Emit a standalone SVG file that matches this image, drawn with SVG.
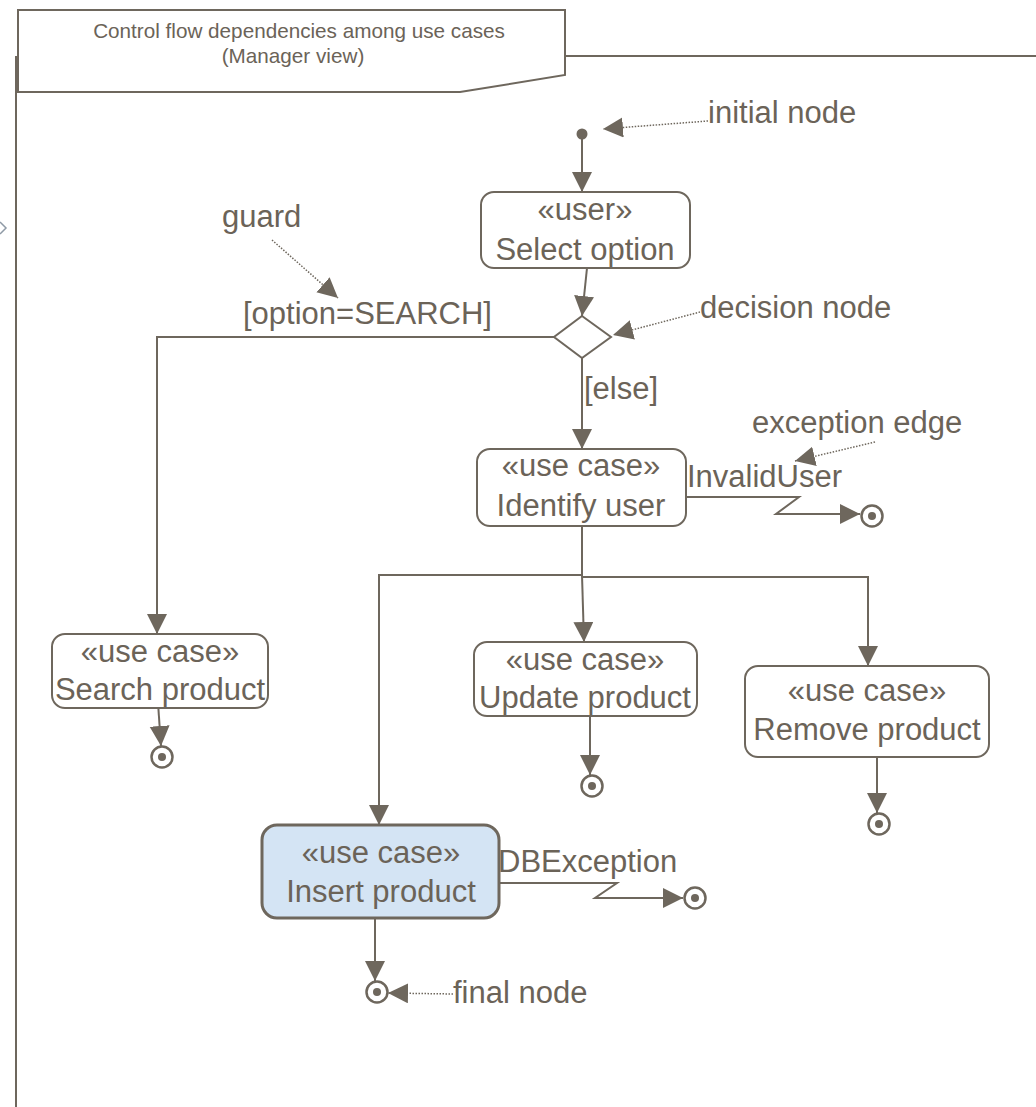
<svg xmlns="http://www.w3.org/2000/svg" width="1036" height="1107" viewBox="0 0 1036 1107">
  <style>
    .ln { fill: none; stroke: #6e675d; stroke-width: 2; }
    .dot { fill: none; stroke: #6e675d; stroke-width: 1.5; stroke-dasharray: 1.5 1.5; }
    .box { fill: #ffffff; stroke: #6e675d; stroke-width: 2; }
    .hl { fill: #d4e4f4; stroke: #6e675d; stroke-width: 3; }
    .t { font-family: "Liberation Sans", Arial, sans-serif; font-size: 31px; fill: #6b6358; }
    .c { text-anchor: middle; }
    .title { font-family: "Liberation Sans", Arial, sans-serif; font-size: 20.7px; fill: #6b6358; text-anchor: middle; }
    .fin { fill: #ffffff; stroke: #6e675d; stroke-width: 2.5; }
    .fdot { fill: #6e675d; }
  </style>
  <defs>
    <marker id="arrow" markerUnits="userSpaceOnUse" markerWidth="22" markerHeight="22" refX="20" refY="10" orient="auto" viewBox="0 0 22 22">
      <path d="M0,0 L20,10 L0,20 z" fill="#6e675d"/>
    </marker>
  </defs>

  <rect width="1036" height="1107" fill="#ffffff"/>

  <!-- frame -->
  <g id="frame">
    <path class="ln" d="M16,1107 L16,56 M565,56 L1036,56"/>
    <path class="ln" d="M18,10 L565,10 L565,75 L460,92 L18,92 Z" fill="#ffffff"/>
    <text class="title" x="299" y="38">Control flow dependencies among use cases</text>
    <text class="title" x="293" y="63">(Manager view)</text>
    <path d="M0,222 L6,228 L0,234" fill="none" stroke="#8f9aa6" stroke-width="1.5"/>
  </g>

  <!-- connectors -->
  <g id="connectors">
    <path class="ln" d="M582,139 L582,192" marker-end="url(#arrow)"/>
    <path class="ln" d="M587,268 L582,316" marker-end="url(#arrow)"/>
    <path class="ln" d="M554,337 L157,337 L157,634" marker-end="url(#arrow)"/>
    <path class="ln" d="M582,358 L582,449" marker-end="url(#arrow)"/>
    <path class="ln" d="M582,526 L582,575 L379,575 L379,825" marker-end="url(#arrow)"/>
    <path class="ln" d="M582,575 L584,642" marker-end="url(#arrow)"/>
    <path class="ln" d="M583,577 L868,577 L868,666" marker-end="url(#arrow)"/>
    <path class="ln" d="M158,703 L161,746" marker-end="url(#arrow)"/>
    <path class="ln" d="M590,700 L590,775" marker-end="url(#arrow)"/>
    <path class="ln" d="M877,757 L877,813" marker-end="url(#arrow)"/>
    <path class="ln" d="M375,918 L375,981" marker-end="url(#arrow)"/>
    <!-- exception edges -->
    <path class="ln" d="M687,497 L799,497 L776,514 L860,514" marker-end="url(#arrow)"/>
    <path class="ln" d="M500,883 L617,883 L595,898 L683,898" marker-end="url(#arrow)"/>
    <!-- annotation pointers -->
    <path class="dot" d="M708,121 L603,129" marker-end="url(#arrow)"/>
    <path class="dot" d="M272,240 L338,298" marker-end="url(#arrow)"/>
    <path class="dot" d="M700,312 L613,335" marker-end="url(#arrow)"/>
    <path class="dot" d="M875,442 L795,461" marker-end="url(#arrow)"/>
    <path class="dot" d="M453,994 L388,993" marker-end="url(#arrow)"/>
    <text class="t" x="243" y="324">[option=SEARCH]</text>
    <text class="t" x="584" y="399">[else]</text>
    <text class="t" x="687" y="487">InvalidUser</text>
    <text class="t" x="498" y="872">DBException</text>
  </g>

  <!-- annotations -->
  <g id="notes">
    <text class="t" x="708" y="123">initial node</text>
    <text class="t" x="222" y="227">guard</text>
    <text class="t" x="700" y="318">decision node</text>
    <text class="t" x="752" y="433">exception edge</text>
    <text class="t" x="453" y="1003">final node</text>
  </g>

  <g id="initial">
    <circle cx="582" cy="134" r="5.5" class="fdot"/>
  </g>

  <g id="select-option">
    <rect class="box" x="481" y="192" width="209" height="76" rx="13"/>
    <text class="t c" x="585" y="220">«user»</text>
    <text class="t c" x="585" y="260">Select option</text>
  </g>

  <g id="decision">
    <path class="box" d="M582,316 L611,337 L582,358 L554,337 Z"/>
  </g>

  <g id="identify-user">
    <rect class="box" x="477" y="449" width="209" height="77" rx="13"/>
    <text class="t c" x="581" y="476">«use case»</text>
    <text class="t c" x="581" y="516">Identify user</text>
  </g>

  <g id="search-product">
    <rect class="box" x="52" y="634" width="216" height="74" rx="13"/>
    <text class="t c" x="160" y="662">«use case»</text>
    <text class="t c" x="160" y="700">Search product</text>
  </g>

  <g id="update-product">
    <rect class="box" x="474" y="642" width="223" height="74" rx="13"/>
    <text class="t c" x="585" y="670">«use case»</text>
    <text class="t c" x="585" y="708">Update product</text>
  </g>

  <g id="remove-product">
    <rect class="box" x="745" y="666" width="244" height="91" rx="13"/>
    <text class="t c" x="867" y="701">«use case»</text>
    <text class="t c" x="867" y="740">Remove product</text>
  </g>

  <g id="insert-product">
    <rect class="hl" x="262" y="825" width="237" height="93" rx="15"/>
    <text class="t c" x="381" y="863">«use case»</text>
    <text class="t c" x="381" y="902">Insert product</text>
  </g>

  <g id="final-search"><circle class="fin" cx="162" cy="757" r="10.5"/><circle class="fdot" cx="162" cy="757" r="4"/></g>
  <g id="final-update"><circle class="fin" cx="592" cy="786" r="10.5"/><circle class="fdot" cx="592" cy="786" r="4"/></g>
  <g id="final-remove"><circle class="fin" cx="879" cy="824" r="10.5"/><circle class="fdot" cx="879" cy="824" r="4"/></g>
  <g id="final-insert"><circle class="fin" cx="377" cy="992" r="10.5"/><circle class="fdot" cx="377" cy="992" r="4"/></g>
  <g id="final-invalid"><circle class="fin" cx="872" cy="516" r="10.5"/><circle class="fdot" cx="872" cy="516" r="4"/></g>
  <g id="final-db"><circle class="fin" cx="695" cy="898" r="10.5"/><circle class="fdot" cx="695" cy="898" r="4"/></g>
</svg>
